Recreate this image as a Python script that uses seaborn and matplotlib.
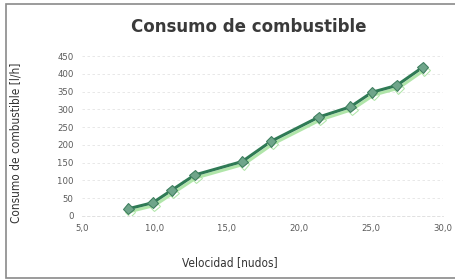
import matplotlib
matplotlib.use("Agg")
import matplotlib.pyplot as plt
import matplotlib.patheffects as pe
from matplotlib.patches import Rectangle
from matplotlib.ticker import FuncFormatter
import pandas as pd
import seaborn as sns

# velocidad (nudos) vs consumo (l/h)
velocidad = [8.2, 9.9, 11.2, 12.8, 16.1, 18.1, 21.4, 23.6, 25.1, 26.8, 28.6]
consumo = [20, 37, 72, 115, 153, 210, 278, 307, 348, 367, 418]

x_ticks = [5, 10, 15, 20, 25, 30]
y_ticks = [0, 50, 100, 150, 200, 250, 300, 350, 400, 450]

df = pd.DataFrame({"velocidad": velocidad, "consumo": consumo})

sns.set_style("white")
plt.rcParams["font.family"] = ["DejaVu Sans"]

fig = plt.figure(figsize=(4.56, 2.8), dpi=100)
ax = fig.add_axes([0.18, 0.229, 0.791, 0.571])

line_green = "#2f7a55"
shadow = pe.SimpleLineShadow(offset=(1.2, -2.0), shadow_color="#a8e3a0", alpha=0.9)
sns.lineplot(data=df, x="velocidad", y="consumo", ax=ax, color=line_green,
             linewidth=2.2, marker="D", markersize=5.5,
             markerfacecolor="#6fa58a", markeredgecolor="#3d7d5e",
             path_effects=[shadow, pe.Normal()])

ax.set_xlim(5, 30)
ax.set_ylim(0, 450)
ax.set_xticks(x_ticks)
ax.set_yticks(y_ticks)
ax.xaxis.set_major_formatter(FuncFormatter(lambda v, p: f"{v:.1f}".replace(".", ",")))
ax.tick_params(axis="both", labelsize=6.8, colors="#5a5a5a", length=0, pad=6)
for t in ax.get_xticklabels() + ax.get_yticklabels():
    t.set_fontstretch("condensed")

ax.grid(axis="y", color="#e4e4e4", linestyle=(0, (3, 3)), linewidth=0.6)
for s in ["top", "right", "left"]:
    ax.spines[s].set_visible(False)
ax.spines["bottom"].set_color("#dcdcdc")
ax.spines["bottom"].set_linestyle((0, (3, 3)))
ax.spines["bottom"].set_linewidth(0.6)

ax.set_xlabel("Velocidad [nudos]", fontsize=8.5, color="#333333", fontstretch="condensed")
ax.set_ylabel("Consumo de combustible [l/h]", fontsize=8.5, color="#333333",
              fontstretch="condensed")
ax.xaxis.set_label_coords(0.41, -0.25)
ax.yaxis.set_label_coords(-0.165, 0.456)

fig.text(0.546, 0.904, "Consumo de combustible", ha="center", va="center",
         fontsize=12, fontweight="bold", color="#3a3a3a")

fig.patches.append(Rectangle((0.014, 0.008), 0.985, 0.978, transform=fig.transFigure,
                             fill=False, edgecolor="#8a8a8a", linewidth=1.2))

fig.savefig("out.png", dpi=100)
